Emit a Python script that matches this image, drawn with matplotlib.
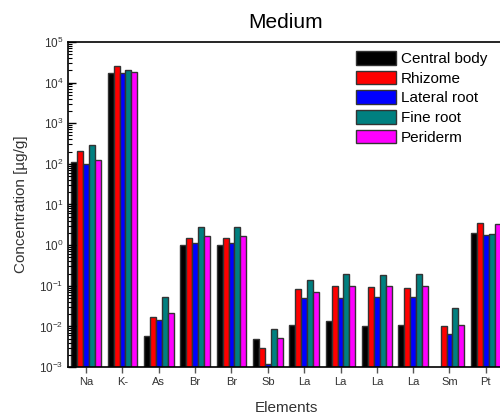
import numpy as np
import matplotlib
matplotlib.use("Agg")
from matplotlib import pyplot as plt

plt.rcParams['font.family'] = ['Liberation Sans', 'DejaVu Sans']
plt.rcParams['mathtext.fontset'] = 'custom'
plt.rcParams['mathtext.rm'] = 'Liberation Sans'

# element labels along x
elements = ["Na", "K-", "As", "Br", "Br", "Sb", "La", "La", "La", "La", "Sm", "Pt"]

# concentrations (ug/g)
central_body = [110, 17000, 0.0059, 1.0, 1.0, 0.0048, 0.011, 0.0133, 0.0104, 0.011, np.nan, 1.96]
rhizome = [210, 25000, 0.0174, 1.5, 1.5, 0.0029, 0.081, 0.10, 0.094, 0.09, 0.0104, 3.6]
lateral_root = [100, 17000, 0.0147, 1.1, 1.1, 0.0012, 0.05, 0.05, 0.053, 0.053, 0.0064, 1.8]
fine_root = [290, 20000, 0.053, 2.8, 2.8, 0.0088, 0.136, 0.195, 0.185, 0.195, 0.028, 1.9]
periderm = [125, 18500, 0.021, 1.7, 1.7, 0.0051, 0.072, 0.10, 0.096, 0.10, 0.0108, 3.35]

series = [central_body, rhizome, lateral_root, fine_root, periderm]
names = ["Central body", "Rhizome", "Lateral root", "Fine root", "Periderm"]
colors = ["#000000", "#ff0000", "#0000ff", "#008080", "#ff00ff"]

fig = plt.figure(figsize=(5, 4.19), dpi=100)
ax = fig.add_axes([0.136, 0.124, 0.872, 0.776])
ax.set_yscale("log")

x = np.arange(len(elements))
w = 0.165
for i, (vals, name, c) in enumerate(zip(series, names, colors)):
    ax.bar(x + (i - 2) * w, vals, width=w, color=c, edgecolor="#333333",
           linewidth=1.0, label=name)

ax.set_ylim(1e-3, 1e5)
ax.set_xlim(-0.5, 11.5)
ax.set_xticks(x)
ax.set_xticklabels(elements, fontsize=8, color="#333333")
ax.tick_params(axis="x", direction="out", length=4, width=1, color="#555555")
ax.tick_params(axis="y", which="major", direction="in", length=6, width=1,
               labelsize=8.5, labelcolor="#333333")
ax.tick_params(axis="y", which="minor", direction="in", length=3, width=0.8)
for s in ax.spines.values():
    s.set_linewidth(1.2)

ax.set_title("Medium", fontsize=15, pad=10)
ax.set_xlabel("Elements", fontsize=11, color="#333333", labelpad=10)
ax.set_ylabel("Concentration [µg/g]", fontsize=11, color="#333333", labelpad=8)

ax.legend(loc="upper left", bbox_to_anchor=(0.64, 1.0), frameon=False,
          fontsize=11, handlelength=2.6, handleheight=1.0, labelspacing=0.3,
          handletextpad=0.3, borderaxespad=0.2)

fig.savefig("out.png", dpi=100)
